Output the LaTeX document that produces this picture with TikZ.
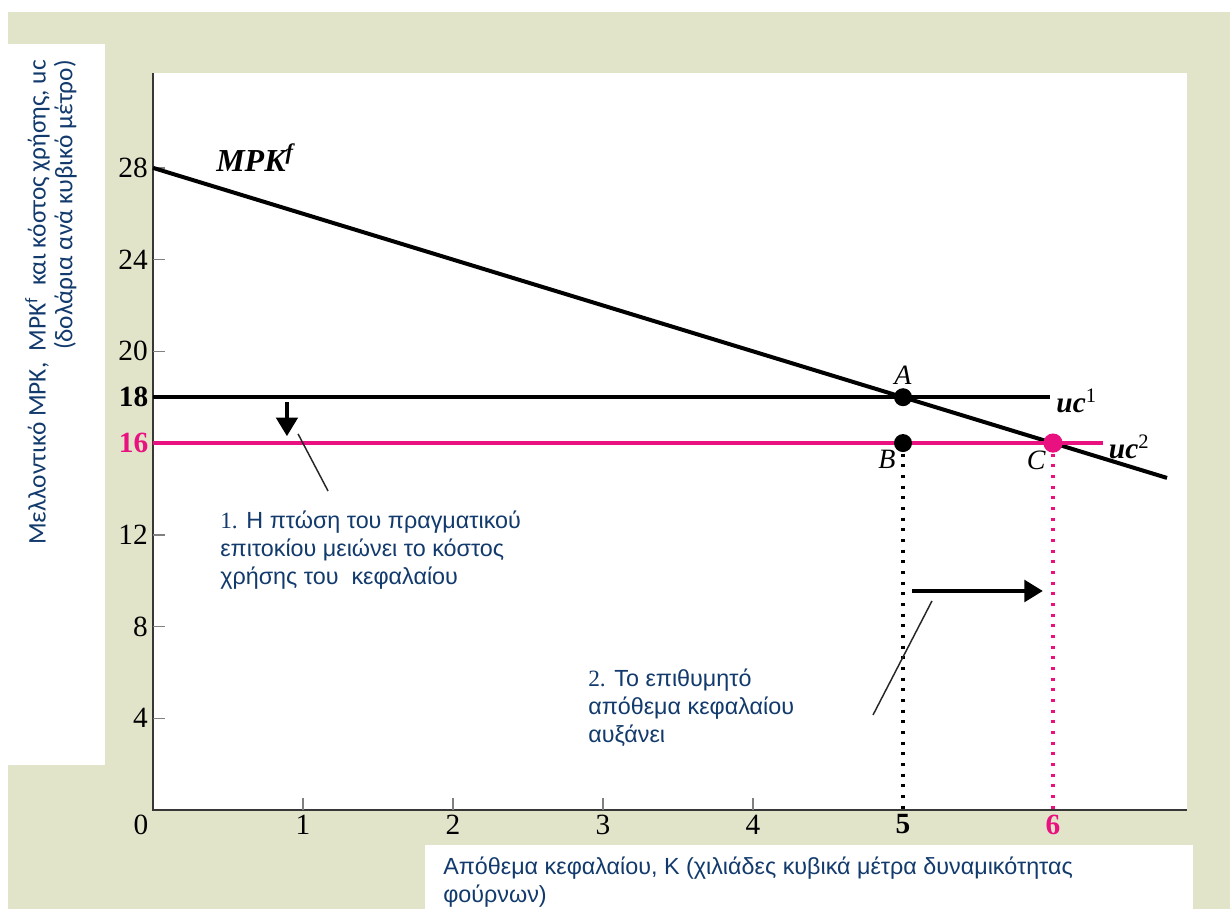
\documentclass[tikz,border=0pt]{standalone}
\usepackage{fontspec}
\newfontfamily\notefont{Liberation Sans}
\newfontfamily\axlabfont{Carlito}
\newfontfamily\numfont{Liberation Serif}
\usetikzlibrary{calc,arrows.meta}
\definecolor{beige}{RGB}{226,228,202}
\definecolor{ucpink}{RGB}{232,17,127}
\definecolor{navy}{RGB}{18,58,108}
\definecolor{axisgray}{RGB}{55,55,55}
\tikzset{
  num/.style={font=\numfont\fontsize{22}{26}\selectfont},
  curve/.style={line width=3pt},
  tick/.style={line width=1.1pt,gray},
  dots/.style={line width=2.3pt,dash pattern=on 2.3pt off 5.7pt},
  note/.style={font=\notefont\fontsize{17.5}{21}\selectfont,text=navy,align=left,inner sep=0pt},
  pointer/.style={line width=1.1pt,black!85},
  shiftarrow/.style={line width=3.5pt,-{Triangle[width=16pt,length=14pt]}}
}

\begin{document}
\begin{tikzpicture}[x=0.75pt,y=-0.75pt]
  \useasboundingbox (0,0) rectangle (1230,909);
  %FRAME
  \fill[beige] (8,12) rectangle (1230,909);
  \fill[white] (8,44) rectangle (105,765);
  \fill[white] (153,73) rectangle (1187,810);
  \fill[white] (425,845) rectangle (1193,909);
  %AXIS TITLES
  \node[rotate=90,anchor=east,align=right,inner sep=0pt,text=navy,
        font=\axlabfont\fontsize{19}{20}\selectfont] (ytitle) at (51,60)
        {Μελλοντικό MPK,\ \ MPK\textsuperscript{f}\ \ και κόστος χρήσης, uc\\(δολάρια ανά κυβικό μέτρο)};
  \node[note,anchor=north west] (xtitle) at (443,857)
        {Απόθεμα κεφαλαίου, K (χιλιάδες κυβικά μέτρα δυναμικότητας\\φούρνων)};
  \begin{scope}[shift={(153,810)},x=112.5pt,y=17.2pt]
    %AXES
    \coordinate[label={[num]below left:0}](O) at (0,0);
    \draw[axisgray,line width=1.5pt] (0,32.14) -- (O) -- (6.893,0);
    \foreach \v in {4,8,12,20,24,28}
      \draw[tick] (0,\v) -- ++(9pt,0) node[num,black,pos=0,left] {\v};
    \foreach \k in {1,2,3,4}
      \draw[tick] (\k,0) -- ++(0,9pt) node[num,black,pos=0,below] {\k};
    \node[num,left,font=\numfont\fontsize{22}{26}\selectfont\bfseries] (y18) at (0,18) {18};
    \node[num,left,text=ucpink,font=\numfont\fontsize{22}{26}\selectfont\bfseries] (y16) at (0,16) {16};
    \node[num,below,font=\numfont\fontsize{22}{26}\selectfont\bfseries] (x5) at (5,0) {5};
    \node[num,below,text=ucpink,font=\numfont\fontsize{22}{26}\selectfont\bfseries] (x6) at (6,0) {6};
    %MPK
    \draw[curve] (0,28) -- (6.76,14.48);
    \node[num,font=\numfont\fontsize{24}{28}\selectfont\bfseries\itshape] (mpk) at (0.68,28.45) {MPK\textsuperscript{f}};
    %UC LINES
    \draw[curve] (0,18) -- (5.98,18) node[num,right,yshift=-3pt] {\textbf{\textit{uc}}\textsuperscript{1}};
    \draw[curve,ucpink] (0,16) -- (6.33,16) node[num,right,yshift=-3pt,black] {\textbf{\textit{uc}}\textsuperscript{2}};
    %POINTS
    \coordinate[label={[num,font=\numfont\fontsize{21}{25}\selectfont\itshape,label distance=6pt]above:A}](A) at (5,18);
    \coordinate[label={[num,font=\numfont\fontsize{21}{25}\selectfont\itshape,label distance=3pt]below left:B}](B) at (5,16);
    \coordinate[label={[num,font=\numfont\fontsize{21}{25}\selectfont\itshape,label distance=3pt]below left:C}](C) at (6,16);
    \draw[dots] (B) -- (x5.north);
    \draw[dots,ucpink] (C) -- (x6.north);
    \fill (A) circle (6.75pt);
    \fill (B) circle (6.75pt);
    \fill[ucpink] (C) circle (7.2pt);
    %SHIFTS
    \draw[shiftarrow,line width=3pt] (0.893,17.8) -- (0.893,16.3);
    \draw[shiftarrow] (5.06,9.55) -- (5.933,9.55);
    %NOTES
    \coordinate (n1) at (0.967,16.40);
    \coordinate (n1end) at (1.167,13.91);
    \draw[pointer] (n1) -- (n1end);
    \node[note,anchor=north west] (note1) at (0.447,13.04)
      {{\numfont 1.} Η πτώση του πραγματικού\\επιτοκίου μειώνει το κόστος\\χρήσης του\ \ κεφαλαίου};
    \coordinate (n2) at (5.193,9.115);
    \coordinate (n2end) at (4.8,4.143);
    \draw[pointer] (n2) -- (n2end);
    \node[note,anchor=north west] (note2) at (2.9,6.15)
      {{\numfont 2.} Το επιθυμητό\\απόθεμα κεφαλαίου\\αυξάνει};
  \end{scope}
\end{tikzpicture}
\end{document}
